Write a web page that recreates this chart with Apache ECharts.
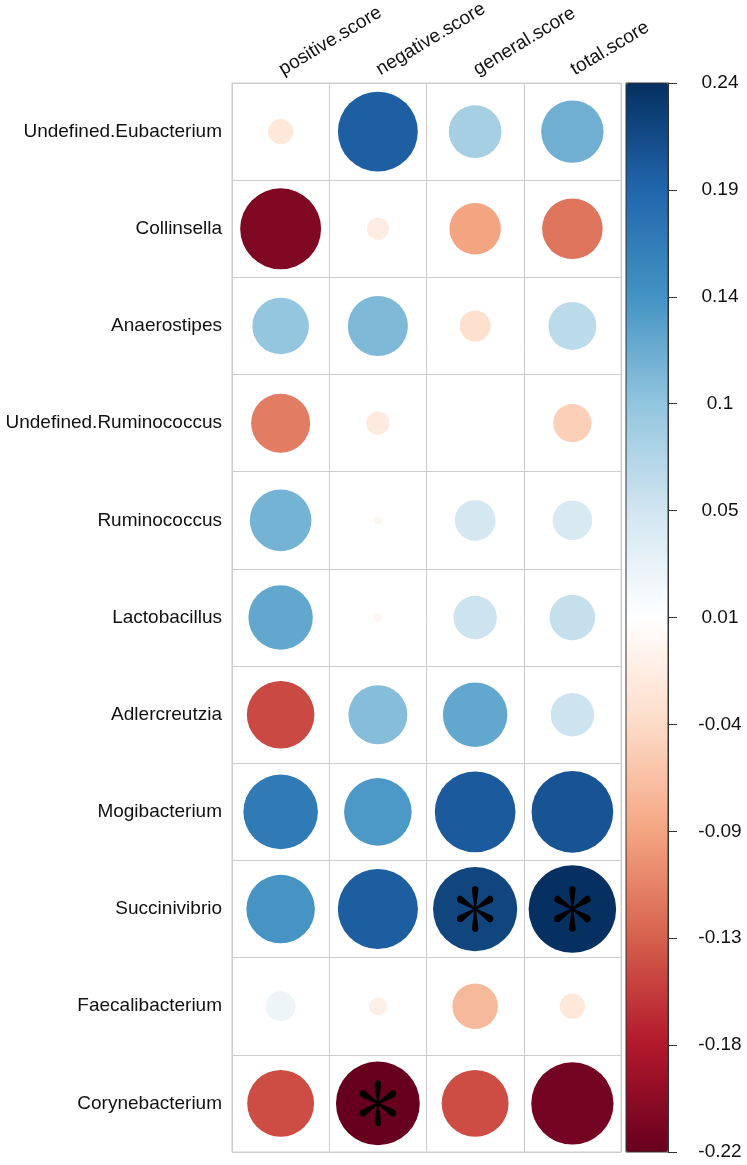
<!DOCTYPE html>
<html>
<head>
<meta charset="utf-8">
<script src="https://cdn.jsdelivr.net/npm/echarts@6/dist/echarts.min.js"></script>
<style>
  html, body { margin: 0; padding: 0; background: #fff; }
  #main { width: 747px; height: 1165px; }
</style>
</head>
<body>
<div id="main"></div>
<script type="text/javascript">
  var rowNames = ['Undefined.Eubacterium', 'Collinsella', 'Anaerostipes', 'Undefined.Ruminococcus',
    'Ruminococcus', 'Lactobacillus', 'Adlercreutzia', 'Mogibacterium', 'Succinivibrio',
    'Faecalibacterium', 'Corynebacterium']
  var colNames = ['positive.score', 'negative.score', 'general.score', 'total.score']

  // values, one per row
  var positiveScore = [-0.02, -0.205, 0.10, -0.109, 0.119, 0.13, -0.143, 0.174, 0.147, 0.028, -0.14]
  var negativeScore = [0.20, -0.015, 0.113, -0.017, -0.002, -0.002, 0.109, 0.143, 0.201, -0.01, -0.22]
  var generalScore = [0.087, -0.083, -0.03, 0.0, 0.052, 0.059, 0.13, 0.204, 0.222, -0.065, -0.14]
  var totalScore = [0.122, -0.115, 0.072, -0.046, 0.049, 0.065, 0.059, 0.209, 0.24, -0.02, -0.212]

  // cells marked with an asterisk
  var sigCells = [['Succinivibrio', 'general.score'], ['Succinivibrio', 'total.score'], ['Corynebacterium', 'negative.score']]

  var barLabels = ['-0.22', '-0.18', '-0.13', '-0.09', '-0.04', '0.01', '0.05', '0.1', '0.14', '0.19', '0.24']
  var colorMin = -0.22
  var colorMax = 0.24

  var rdbu = ['#67001F', '#B2182B', '#D6604D', '#F4A582', '#FDDBC7', '#FFFFFF',
    '#D1E5F0', '#92C5DE', '#4393C3', '#2166AC', '#053061']

  var gridLeft = 232, gridTop = 83, gridW = 389, gridH = 1069
  var cell = gridW / colNames.length
  var fontFamily = "'Liberation Sans', Arial, sans-serif"

  var columns = [positiveScore, negativeScore, generalScore, totalScore]
  var circleData = []
  for (var c = 0; c < colNames.length; c++) {
    for (var r = 0; r < rowNames.length; r++) {
      circleData.push([c, r, columns[c][r]])
    }
  }
  var starData = sigCells.map(function (s) {
    return [colNames.indexOf(s[1]), rowNames.indexOf(s[0])]
  })

  // asterisk glyph: six teardrop petals
  function asteriskPath() {
    var d = ''
    var angles = [90, 30, -30, -90, -150, 150]
    angles.forEach(function (a) {
      var t = a * Math.PI / 180
      var ux = Math.cos(t), uy = -Math.sin(t)
      var px = -uy, py = ux
      var tip = 42, rad = 8, base = 2
      var pts = []
      pts.push([px * base, py * base])
      for (var k = 0; k <= 10; k++) {
        var phi = Math.PI / 2 - Math.PI * k / 10
        var cx = ux * tip + (px * Math.sin(phi) + ux * Math.cos(phi)) * rad
        var cy = uy * tip + (py * Math.sin(phi) + uy * Math.cos(phi)) * rad
        pts.push([cx, cy])
      }
      pts.push([-px * base, -py * base])
      d += 'M' + pts.map(function (p) { return p[0].toFixed(2) + ' ' + p[1].toFixed(2) }).join(' L') + ' Z '
    })
    return 'path://' + d
  }

  var chart = echarts.init(document.getElementById('main'))
  chart.setOption({
    animation: false,
    backgroundColor: '#fff',
    textStyle: { fontFamily: fontFamily },
    grid: [
      {
        left: gridLeft, top: gridTop, width: gridW, height: gridH, outerBoundsMode: 'none',
        show: true, borderColor: '#cccccc', borderWidth: 1, backgroundColor: 'rgba(0,0,0,0)'
      },
      {
        left: 626, top: gridTop, width: 42, height: gridH, outerBoundsMode: 'none',
        show: true, borderColor: '#333', borderWidth: 1, backgroundColor: 'rgba(0,0,0,0)', z: 5
      }
    ],
    xAxis: [
      {
        type: 'category', gridIndex: 0, position: 'top', data: colNames,
        axisLine: { show: true, lineStyle: { color: '#cccccc' } },
        axisTick: { show: false },
        splitLine: { show: true, lineStyle: { color: '#cccccc', width: 1 } },
        axisLabel: { rotate: -31, fontSize: 19, color: '#111', margin: 12, fontFamily: fontFamily }
      },
      { type: 'value', gridIndex: 1, show: false, min: 0, max: 1 }
    ],
    yAxis: [
      {
        type: 'category', gridIndex: 0, inverse: true, data: rowNames,
        axisLine: { show: true, lineStyle: { color: '#cccccc' } },
        axisTick: { show: false },
        splitLine: { show: true, lineStyle: { color: '#cccccc', width: 1 } },
        axisLabel: { fontSize: 19, color: '#111', margin: 10, fontFamily: fontFamily }
      },
      {
        type: 'value', gridIndex: 1, position: 'right', min: 0, max: barLabels.length - 1, interval: 1,
        z: 6,
        axisLine: { show: true, onZero: false, lineStyle: { color: '#333' } },
        axisTick: { show: true, inside: false, length: 9, lineStyle: { color: '#333' } },
        splitLine: { show: false },
        axisLabel: {
          fontSize: 19, color: '#111', margin: 52, align: 'center', fontFamily: fontFamily,
          padding: [6, 0, 0, 0],
          formatter: function (v) { return barLabels[v] }
        }
      }
    ],
    visualMap: {
      type: 'continuous',
      min: colorMin,
      max: colorMax,
      dimension: 2,
      seriesIndex: 0,
      calculable: false,
      hoverLink: false,
      inRange: { color: rdbu },
      left: 626,
      top: gridTop,
      itemWidth: 42,
      itemHeight: gridH,
      padding: 0,
      z: 4
    },
    series: [
      {
        type: 'scatter',
        xAxisIndex: 0,
        yAxisIndex: 0,
        symbol: 'circle',
        symbolSize: function (val) {
          return 2 * 0.45 * cell * Math.sqrt(Math.abs(val[2]) / colorMax)
        },
        itemStyle: { opacity: 1 },
        data: circleData,
        silent: true
      },
      {
        type: 'scatter',
        xAxisIndex: 0,
        yAxisIndex: 0,
        symbol: asteriskPath(),
        symbolKeepAspect: true,
        symbolSize: [41, 46],
        itemStyle: { color: '#000', opacity: 1 },
        data: starData,
        z: 5,
        silent: true
      }
    ]
  })
</script>
</body>
</html>
